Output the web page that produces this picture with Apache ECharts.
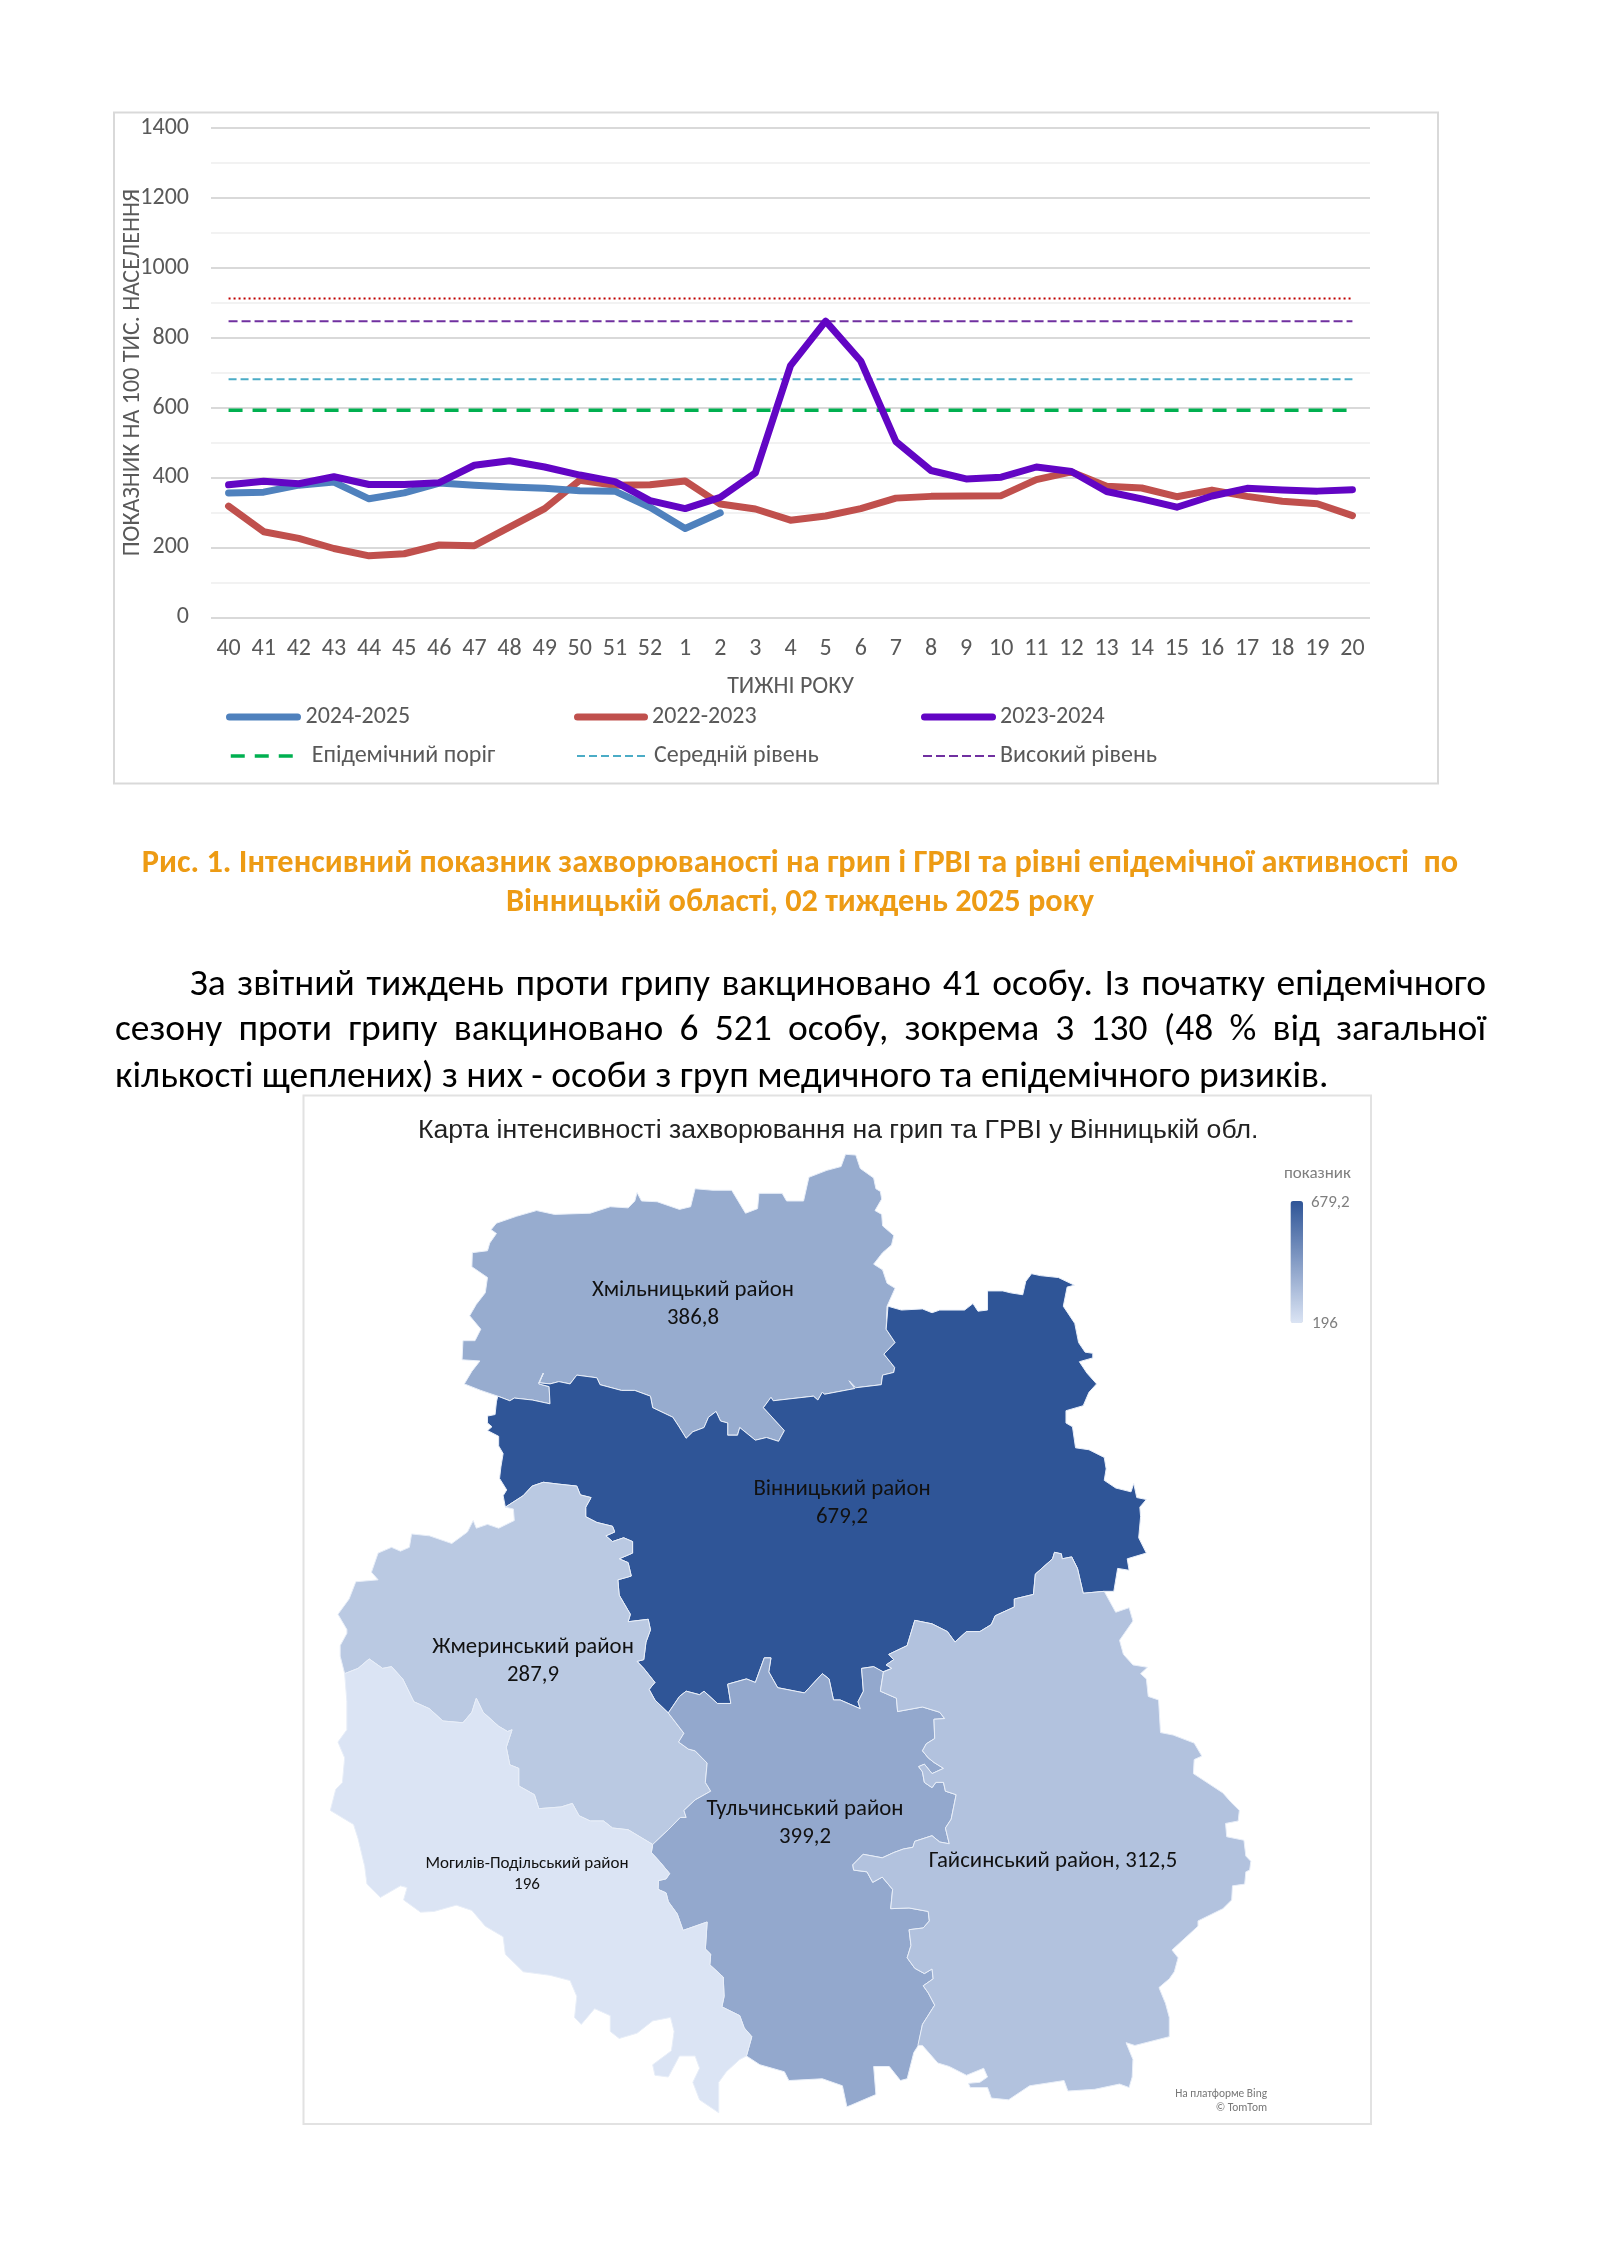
<!DOCTYPE html>
<html lang="uk">
<head>
<meta charset="utf-8">
<title>Захворюваність на грип і ГРВІ</title>
<script src="https://cdn.jsdelivr.net/npm/echarts@6/dist/echarts.min.js"></script>
<style>
html,body{margin:0;padding:0;background:#fff;width:1600px;height:2262px;overflow:hidden}
#chart{position:absolute;left:0;top:0;width:1600px;height:2262px}
.t{position:absolute;white-space:nowrap;font-family:Carlito,Calibri,"Noto Sans",sans-serif}
.cap{left:0;width:1600px;text-align:center;color:#ED9B14;font-weight:700;font-size:32.3px;line-height:34px}
.par{left:115px;width:1371px;color:#000;font-size:37.5px;line-height:40px}
.j{text-align:justify;text-align-last:justify}
</style>
</head>
<body>
<div id="chart"></div>
<div class="t cap" style="top:844px">Рис. 1. Інтенсивний показник захворюваності на грип і ГРВІ та рівні епідемічної активності&nbsp; по</div>
<div class="t cap" style="top:883px">Вінницькій області, 02 тиждень 2025 року</div>
<div class="t par j" style="top:962px;left:190px;width:1296px">За звітний тиждень проти грипу вакциновано 41 особу. Із початку епідемічного</div>
<div class="t par j" style="top:1007px">сезону проти грипу вакциновано 6 521 особу, зокрема 3 130 (48 % від загальної</div>
<div class="t par" style="top:1054px">кількості щеплених) з них - особи з груп медичного та епідемічного ризиків.</div>
<script>
// ---------- line chart data ----------
const weeks = ['40','41','42','43','44','45','46','47','48','49','50','51','52','1','2','3','4','5','6','7','8','9','10','11','12','13','14','15','16','17','18','19','20'];
const season2425 = [356,358,378,387,339,356,384,378,373,369,362,361,315,254,299];
const season2223 = [318,245,226,197,176,182,207,205,258,311,392,378,379,390,324,310,278,290,311,341,346,347,348,394,416,375,370,345,364,346,332,325,291];
const season2324 = [379,389,382,402,380,380,385,435,448,430,407,388,334,311,343,413,720,847,733,503,420,396,401,430,417,360,339,315,347,369,364,361,365];
const epidemicThreshold = weeks.map(() => 592);
const mediumLevel = weeks.map(() => 681);
const highLevel = weeks.map(() => 847);
const veryHighLevel = weeks.map(() => 912);

// ---------- map data ----------
const districts = ['Хмільницький район','Вінницький район','Жмеринський район','Тульчинський район','Могилів-Подільський район','Гайсинський район'];
const districtValues = [386.8,679.2,287.9,399.2,196,312.5];
const scaleMin = 196, scaleMax = 679.2;

const z3 = a => a.map(([x,y]) => [300+x/2.24, 1090+y/2.613]);
const z4 = a => a.map(([x,y]) => [800+x/2.613, 1090+y/2.613]);
const z5 = a => a.map(([x,y]) => [300+x/2.24, 1600+y/2.851]);
const z6 = a => a.map(([x,y]) => [800+x/2.613, 1600+y/2.851]);

const hmFree = z3([[443,800],[405,785],[368,768],[385,735],[403,708],[363,705],[365,655],[392,655],[405,625],[380,590],[395,560],[415,530],[420,490],[385,462],[386,425],[420,420],[425,400],[440,375],[428,365],[440,348],[485,330],[530,315],[570,325],[650,322],[695,305],[735,308],[750,290],[755,268],[765,290],[800,292],[850,312],[875,305],[885,258],[925,262],[967,262],[998,322],[1025,310],[1028,270],[1080,270],[1090,290],[1128,290],[1140,228],[1180,210],[1212,200],[1222,168],[1245,170],[1255,205],[1285,230],[1290,258],[1300,265],[1303,285],[1288,315],[1303,325],[1305,355],[1330,380],[1325,405],[1305,425],[1285,455],[1305,470],[1315,505],[1333,518],[1315,565]]);
const hmVn = z3([[1315,565],[1313,625],[1333,660],[1308,690],[1332,725],[1330,738],[1305,745],[1302,770],[1245,778],[1230,760],[1243,780],[1175,795],[1170,790],[1160,810],[1150,800],[1060,812],[1055,803],[1038,830],[1085,890],[1072,918],[1045,908],[1020,915],[985,882],[980,902],[958,902],[958,870],[942,865],[932,840],[915,855],[905,882],[880,893],[865,910],[848,878],[835,855],[790,830],[785,800],[750,785],[720,785],[672,770],[665,752],[620,745],[605,768],[580,762],[560,768],[535,765],[545,740],[535,768],[558,775],[560,820],[520,810],[480,805],[470,812],[443,800]]);
const vnWest = z3([[443,800],[440,815],[437,848],[420,852],[420,870],[430,880],[420,890],[445,905],[445,930],[455,950],[450,985],[447,1015],[463,1045],[455,1060],[460,1090]]);
const vnZh = z3([[460,1090],[500,1060],[520,1035],[545,1025],[580,1030],[620,1035],[628,1058],[652,1065],[640,1090],[640,1115],[665,1130],[700,1140],[705,1155],[685,1165],[700,1180],[725,1170],[745,1180],[745,1210],[715,1225],[735,1235],[742,1270],[712,1280],[715,1320],[725,1340],[740,1370]]).concat(z5([[735,62],[780,55],[785,85],[775,120],[770,170],[755,175],[770,195],[795,235],[782,255],[795,285],[825,322]]));
const zhFree = z3([[460,1090],[478,1095],[480,1125],[445,1145],[420,1135],[395,1145],[388,1125],[375,1155],[340,1185],[290,1165],[250,1160],[245,1195],[225,1205],[205,1195],[175,1210],[160,1260],[175,1280],[125,1285],[110,1330],[85,1370],[105,1410]]).concat(z5([[105,95],[90,130],[90,160],[100,210]]));
const zhMo = z5([[100,210],[130,195],[155,168],[185,195],[205,190],[230,225],[255,290],[290,310],[320,345],[365,350],[385,320],[395,280],[410,320],[445,360],[465,375],[475,370],[462,420],[470,470],[490,480],[490,530],[525,555],[535,595],[585,590],[610,580],[625,615],[650,630],[680,630],[700,650],[735,655],[790,697]]);
const zhTu = z5([[825,322],[860,380],[848,405],[870,425],[885,430],[912,465],[908,520],[920,545],[885,570],[860,600],[865,620],[852,620],[825,655],[790,697]]);
const moFree = z5([[100,210],[105,290],[105,370],[85,405],[100,450],[95,520],[80,540],[68,600],[120,640],[130,680],[145,760],[150,810],[180,848],[225,815],[240,820],[232,855],[270,890],[300,888],[350,870],[385,885],[415,930],[455,960],[460,1010],[500,1060],[560,1070],[605,1085],[620,1130],[615,1190],[630,1210],[660,1165],[695,1185],[695,1230],[715,1250],[755,1235],[790,1200],[830,1190],[838,1230],[832,1285],[790,1325],[795,1355],[825,1360],[850,1300],[885,1300],[895,1335],[880,1375],[895,1425],[938,1462],[938,1375],[955,1345],[985,1310],[1000,1300]]);
const moTu = z5([[790,697],[787,720],[805,745],[828,780],[820,795],[803,800],[802,825],[820,835],[825,860],[845,895],[858,942],[912,918],[908,995],[920,1010],[918,1040],[948,1075],[950,1130],[945,1160],[985,1185],[995,1220],[1012,1245],[1000,1300]]);
const tuFree = z5([[1000,1300],[1030,1325],[1085,1345],[1095,1370],[1170,1365],[1215,1385],[1225,1445],[1235,1440],[1290,1410],[1285,1330],[1320,1330],[1345,1370],[1360,1365],[1375,1290],[1385,1270]]);
const tuGa = z6([[308,1270],[320,1210],[352,1155],[335,1120],[322,1100],[348,1080],[345,1052],[325,1065],[300,1050],[280,1020],[290,985],[285,940],[322,935],[338,915],[335,888],[285,878],[237,880],[242,825],[215,790],[190,805],[175,775],[140,770],[138,755],[165,725],[215,735],[245,720],[270,710],[295,705],[300,688],[345,672],[365,690],[390,695],[380,650],[395,625],[408,555],[380,545],[375,520],[355,520],[345,535],[325,520],[320,490],[310,475],[325,468],[345,495],[375,480],[350,463],[335,450],[320,430],[330,410],[352,395],[350,340],[378,338],[365,320],[320,305],[255,318],[252,280],[210,260],[218,205]]);
const vnTu = z5([[825,322],[850,275],[865,260],[895,270],[905,260],[935,295],[965,295],[958,240],[1000,225],[1020,235],[1040,165],[1055,165],[1050,205],[1070,250],[1110,260],[1130,265],[1170,210],[1185,225],[1195,285],[1210,285],[1255,310],[1250,290],[1262,260],[1258,195],[1285,190],[1305,205]]);
const vnGa = z6([[218,205],[240,195],[225,185],[245,170],[232,155],[280,130],[300,58],[345,68],[385,90],[405,120],[435,90],[470,90],[500,70],[510,45],[560,20]]).concat(z4([[560,1330],[610,1318],[615,1265],[660,1225],[665,1208],[683,1212],[685,1225],[710,1220],[725,1250],[740,1315],[795,1310]]));
const vnEast = z4([[795,1310],[820,1310],[830,1250],[860,1255],[855,1225],[905,1210],[885,1170],[890,1115],[888,1090],[905,1070],[880,1065],[872,1028],[865,1050],[825,1040],[795,1020],[800,990],[795,960],[755,940],[720,935],[712,880],[695,870],[695,838],[740,825],[755,790],[775,768],[750,740],[730,710],[765,700],[765,688],[745,685],[728,660],[718,610],[688,565],[698,515],[717,510],[675,490],[628,485],[605,480],[590,500],[582,535],[550,530],[530,525],[490,525],[490,575],[465,578],[452,558],[430,575],[365,575],[345,582],[320,572],[265,575],[230,565]]);
const gaFree = z4([[795,1310]]).concat(z6([[825,35],[860,22],[870,60],[835,115],[845,155],[870,185],[908,192],[890,210],[905,225],[910,275],[937,285],[942,378],[975,385],[1030,408],[1050,445],[1030,455],[1028,495],[1105,550],[1125,575],[1148,600],[1145,630],[1112,637],[1115,675],[1160,685],[1165,730],[1178,745],[1175,770],[1165,775],[1162,810],[1130,815],[1128,855],[1105,880],[1040,915],[1040,930],[972,998],[988,1020],[978,1060],[965,1080],[938,1105],[955,1150],[965,1190],[965,1245],[875,1270],[852,1262],[870,1310],[868,1360],[860,1390],[835,1380],[770,1395],[700,1400],[690,1370],[600,1385],[545,1425],[500,1420],[490,1390],[445,1390],[440,1378],[470,1375],[490,1360],[480,1335],[435,1355],[390,1330],[360,1320],[320,1270],[308,1270]]));

const rev = a => a.slice().reverse();
const ring = (...parts) => { const r = [].concat(...parts); r.push(r[0]); return r; };
const outlines = [
  ring(hmFree, hmVn),
  ring(vnWest, vnZh, vnTu, vnGa, vnEast, hmVn),
  ring(zhFree, zhMo, rev(zhTu), rev(vnZh)),
  ring(zhTu, moTu, tuFree, tuGa, rev(vnTu)),
  ring(moFree, rev(moTu), rev(zhMo)),
  ring(vnGa, gaFree, tuGa)
];
const labelPoints = [[693,1304.5],[842,1503.5],[533,1661],[805,1823.5],[527,1874],[1053,1861]];

const geo = {
  type: 'FeatureCollection',
  features: districts.map((name, i) => ({
    type: 'Feature',
    properties: { name, cp: labelPoints[i] },
    geometry: { type: 'Polygon', coordinates: [outlines[i]] }
  }))
};
echarts.registerMap('vinnytsia', geo);

let x0 = Infinity, y0 = Infinity, x1 = -Infinity, y1 = -Infinity;
outlines.flat().forEach(([x,y]) => { x0 = Math.min(x0,x); x1 = Math.max(x1,x); y0 = Math.min(y0,y); y1 = Math.max(y1,y); });

const comma = v => String(v).replace('.', ',');
const FONT = 'Carlito, Calibri, "Noto Sans", sans-serif';
const GREY = '#595959';
const chart = echarts.init(document.getElementById('chart'), null, { renderer: 'canvas' });

function thick(name, data, color) {
  return { name, type: 'line', data, symbol: 'none', smooth: false, silent: true, animation: false, z: 3,
    lineStyle: { color, width: 7, cap: 'round', join: 'round' }, itemStyle: { color } };
}
function level(name, data, color, width, type, cap) {
  return { name, type: 'line', data, symbol: 'none', silent: true, animation: false, z: 2,
    lineStyle: { color, width, type, cap: cap || 'butt' }, itemStyle: { color } };
}
function legendItem(name, left, top, itemWidth, lineWidth, cap, pad) {
  return { data: [{ name }], left, top, itemWidth, itemHeight: 22, padding: 0, selectedMode: false,
    itemStyle: { opacity: 0 }, lineStyle: { width: lineWidth, cap },
    textStyle: { color: GREY, fontFamily: FONT, fontSize: 24, padding: [0,0,0,pad||0] } };
}

chart.setOption({
  animation: false,
  title: {
    text: 'Карта інтенсивності захворювання на грип та ГРВІ у Вінницькій обл.',
    left: 418, top: 1117, padding: 0,
    textStyle: { color: '#222', fontFamily: '"Liberation Sans", Arial, sans-serif', fontSize: 26.6, fontWeight: 'normal' }
  },
  grid: { left: 211, top: 127.7, width: 1159, height: 489.7, containLabel: false },
  xAxis: {
    type: 'category', data: weeks, boundaryGap: true,
    axisLine: { show: false }, axisTick: { show: false },
    axisLabel: { interval: 0, color: GREY, fontFamily: FONT, fontSize: 24, margin: 20 },
    name: 'ТИЖНІ РОКУ', nameLocation: 'middle', nameGap: 58,
    nameTextStyle: { color: GREY, fontFamily: FONT, fontSize: 24 }
  },
  yAxis: {
    type: 'value', min: 0, max: 1400, interval: 200,
    axisLine: { show: false }, axisTick: { show: false },
    axisLabel: { color: GREY, fontFamily: FONT, fontSize: 24, margin: 22, formatter: v => String(v) },
    splitLine: { show: true, lineStyle: { color: '#d9d9d9', width: 2 } },
    minorTick: { show: false, splitNumber: 2 },
    minorSplitLine: { show: true, lineStyle: { color: '#f2f2f2', width: 2 } },
    name: 'ПОКАЗНИК НА 100 ТИС. НАСЕЛЕННЯ', nameLocation: 'middle', nameGap: 66, nameMoveOverlap: false,
    nameTextStyle: { color: GREY, fontFamily: FONT, fontSize: 24 }
  },
  legend: [
    legendItem('2024-2025', 226, 705, 68, 7, 'round', 3),
    legendItem('2022-2023', 574, 705, 67, 7, 'round', 2.5),
    legendItem('2023-2024', 921, 705, 68, 7, 'round', 2.5),
    legendItem('Епідемічний поріг', 229, 744, 62, 3.5, 'butt', 14),
    legendItem('Середній рівень', 576, 744, 72, 2, 'butt'),
    legendItem('Високий рівень', 922, 744, 72, 2, 'butt')
  ],
  visualMap: {
    type: 'continuous', seriesIndex: 7, min: scaleMin, max: scaleMax,
    left: 1290.5, top: 1201, itemWidth: 12.5, itemHeight: 122, padding: 0,
    calculable: false, realtime: false, hoverLink: false, showLabel: false, text: null,
    inRange: { color: ['#dbe4f4', '#2f5597'] }
  },
  graphic: [
    { type: 'rect', silent: true, z: -1, shape: { x: 114, y: 112.5, width: 1324, height: 671 }, style: { fill: 'none', stroke: '#d9d9d9', lineWidth: 2 } },
    { type: 'rect', silent: true, z: -1, shape: { x: 303.5, y: 1095.5, width: 1067.5, height: 1028.5 }, style: { fill: 'none', stroke: '#e2e2e2', lineWidth: 2 } },
    { type: 'text', silent: true, x: 1284, y: 1165, style: { text: 'показник', fill: '#7f7f7f', font: '17px '+FONT } },
    { type: 'text', silent: true, x: 1311, y: 1194, style: { text: comma(scaleMax), fill: '#7f7f7f', font: '17px '+FONT } },
    { type: 'text', silent: true, x: 1312, y: 1315, style: { text: comma(scaleMin), fill: '#7f7f7f', font: '17px '+FONT } },
    { type: 'text', silent: true, x: 1267, y: 2087, style: { text: 'На платформе Bing\n© TomTom', fill: '#777', align: 'right', lineHeight: 14, font: '11.4px '+FONT } }
  ],
  series: [
    level('Дуже високий рівень', veryHighLevel, '#c00000', 2, [2,3]),
    level('Високий рівень', highLevel, '#7030a0', 2, [9,4]),
    level('Середній рівень', mediumLevel, '#4bacc6', 2, [8,4]),
    level('Епідемічний поріг', epidemicThreshold, '#00b050', 3.5, [14,10]),
    thick('2022-2023', season2223, '#c0504d'),
    thick('2024-2025', season2425, '#4f81bd'),
    thick('2023-2024', season2324, '#6205c4'),
    {
      type: 'map', map: 'vinnytsia', silent: true, animation: false, z: 2,
      projection: { project: p => p, unproject: p => p },
      left: x0, top: y0, width: x1 - x0, height: y1 - y0,
      roam: false, selectedMode: false, showLegendSymbol: false,
      itemStyle: { borderColor: '#e8eef8', borderWidth: 1 },
      emphasis: { disabled: true },
      label: {
        show: true, color: '#111', fontFamily: FONT, fontSize: 22.8, lineHeight: 28,
        formatter: p => p.name + '\n' + comma(p.value)
      },
      data: districts.map((name, i) => {
        const d = { name, value: districtValues[i] };
        if (name.startsWith('Могилів')) d.label = { fontSize: 17, lineHeight: 21 };
        if (name.startsWith('Гайсин')) d.label = { formatter: p => p.name + ', ' + comma(p.value) };
        return d;
      })
    }
  ]
});
</script>
</body>
</html>
